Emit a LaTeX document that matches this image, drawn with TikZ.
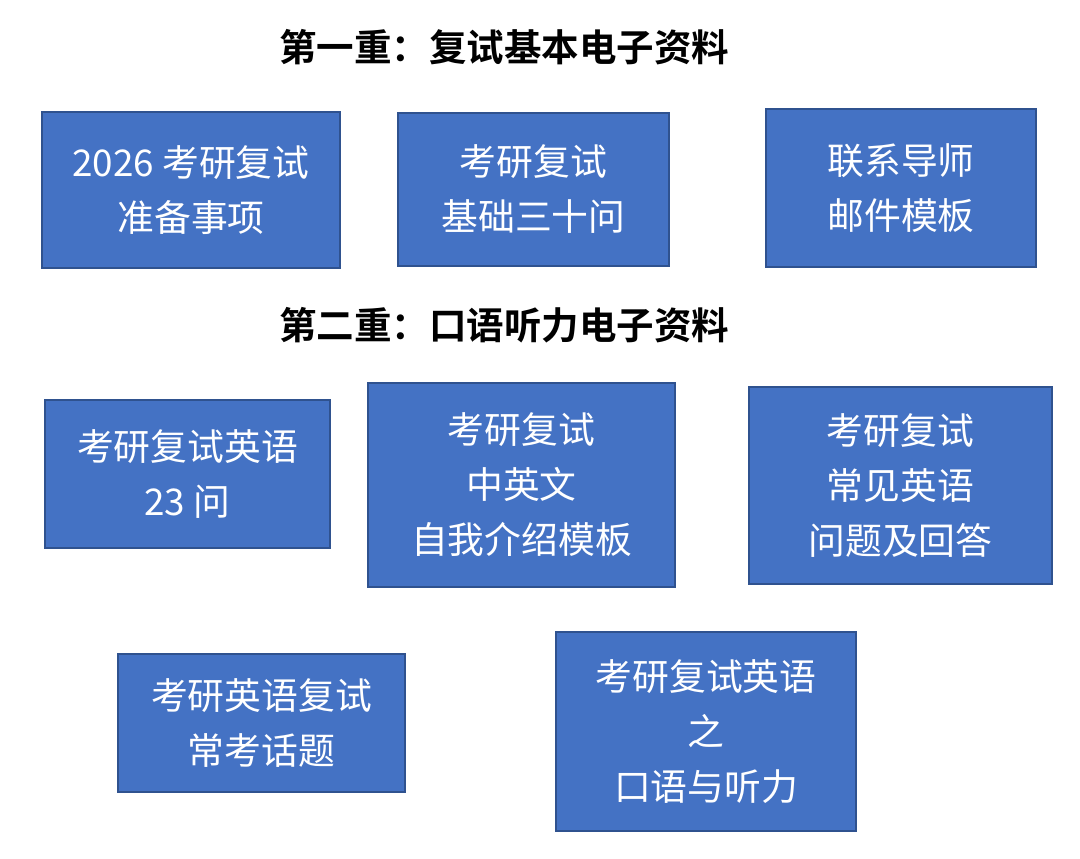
\documentclass[tikz,border=0pt]{standalone}
\usepackage{fontspec}
\newfontfamily\cjk{Noto Sans CJK SC}[BoldFont={Noto Sans CJK SC Bold}]
\usetikzlibrary{positioning}
\definecolor{OfficeBlue}{HTML}{4472C4}
\definecolor{OfficeDarkBlue}{HTML}{2F528F}
\colorlet{BoxFill}{OfficeBlue}
\colorlet{BoxLine}{OfficeDarkBlue}
\tikzset{
  ItemBox/.style 2 args={
      draw=BoxLine, fill=BoxFill, line width=2.5pt,
      text=white, align=center, inner sep=0pt,
      minimum width=#1, minimum height=#2,
      font=\cjk\fontsize{36.8}{55}\selectfont
    },
  GroupTitle/.style={
      text=black, inner sep=0pt,
      font=\cjk\bfseries\fontsize{37.5}{40}\selectfont
    }
}
\begin{document}
\begin{tikzpicture}[x=1pt,y=-1pt]
  \useasboundingbox (0,0) rectangle (1080,859);

  \node[GroupTitle] (titleA) at (504,47) {第一重：复试基本电子资料};
  \node[ItemBox={298pt}{156pt}] (prep) at (191,190) {2026 考研复试\\准备事项};
  \node[ItemBox={271pt}{153pt}] (basics) at (533.5,189.5) {考研复试\\基础三十问};
  \node[ItemBox={270pt}{158pt}] (mail) at (901,188) {联系导师\\邮件模板};

  \node[GroupTitle] (titleB) at (504,325) {第二重：口语听力电子资料};
  \node[ItemBox={285pt}{148pt}] (questions) at (187.5,474) {考研复试英语\\23 问};
  \node[ItemBox={307pt}{204pt}] (intro) at (521.5,485) {考研复试\\中英文\\自我介绍模板};
  \node[ItemBox={303pt}{197pt}] (answers) at (900.5,485.5) {考研复试\\常见英语\\问题及回答};
  \node[ItemBox={287pt}{138pt}] (topics) at (261.5,723) {考研英语复试\\常考话题};
  \node[ItemBox={300pt}{199pt}] (oral) at (706,731.5) {考研复试英语\\之\\口语与听力};
\end{tikzpicture}
\end{document}
